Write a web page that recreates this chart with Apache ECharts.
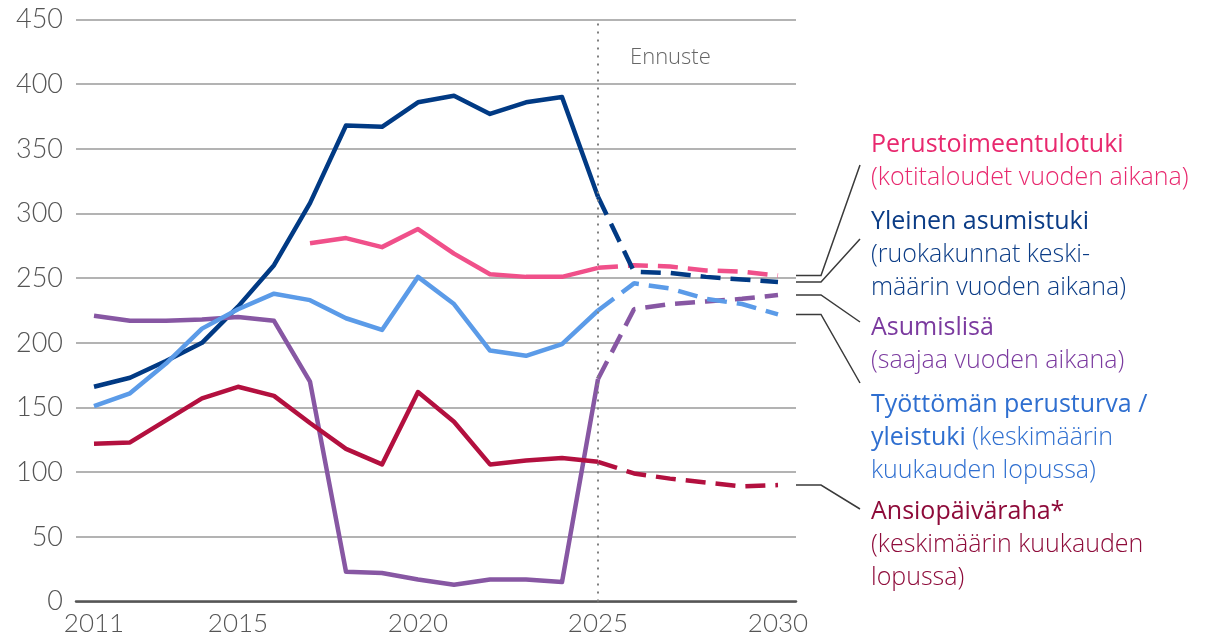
<!DOCTYPE html>
<html>
<head>
<meta charset="utf-8">
<script src="https://cdn.jsdelivr.net/npm/echarts@6/dist/echarts.min.js"></script>
<style>
html,body{margin:0;padding:0;background:#fff;}
#main{width:1207px;height:640px;}
</style>
</head>
<body>
<div id="main"></div>
<script>
// vuodet ja sarjat (2011-2030), ennuste alkaa 2025
var years = ['2011','2012','2013','2014','2015','2016','2017','2018','2019','2020',
             '2021','2022','2023','2024','2025','2026','2027','2028','2029','2030'];
var shownYears = ['2011','2015','2020','2025','2030'];
var forecastFrom = '2025';

var perustoimeentulotuki = [null,null,null,null,null,null,277,281,274,288,269,253,251,251,258,260,259,256,255,252];
var yleinenAsumistuki = [166,173,186,200,228,260,308,368,367,386,391,377,386,390,313,255,254,251,249,247];
var asumislisa = [221,217,217,218,220,217,170,23,22,17,13,17,17,15,172,226,230,232,234,237];
var tyottomanPerusturva = [151,161,184,211,226,238,233,219,210,251,230,194,190,199,225,246,242,234,230,222];
var ansiopaivaraha = [122,123,140,157,166,159,138,118,106,162,139,106,109,111,108,99,95,92,89,90];

(function(){
    var AXIS_FONT = 'Lato';
    var TEXT_FONT = 'Open Sans';

    //selitteet oikealla puolella
    var legendItems = [
        {data: perustoimeentulotuki, line:'#f0508a', text:'#e8286e', anchorY:165, top:128,
         txt:'{b|Perustoimeentulotuki}\n{l|(kotitaloudet vuoden aikana)}'},
        {data: yleinenAsumistuki, line:'#013a84', text:'#0b3c86', anchorY:239, top:205,
         txt:'{b|Yleinen asumistuki}\n{l|(ruokakunnat keski-}\n{l|määrin vuoden aikana)}'},
        {data: asumislisa, line:'#8757a3', text:'#7b3a9f', anchorY:322, top:311,
         txt:'{b|Asumislisä}\n{l|(saajaa vuoden aikana)}'},
        {data: tyottomanPerusturva, line:'#5b9be8', text:'#2f6fd0', anchorY:383, top:388,
         txt:'{b|Työttömän perusturva /}\n{b|yleistuki}{l| (keskimäärin}\n{l|kuukauden lopussa)}'},
        {data: ansiopaivaraha, line:'#b3103f', text:'#8e0b3a', anchorY:509, top:495,
         txt:'{b|Ansiopäiväraha*}\n{l|(keskimäärin kuukauden}\n{l|lopussa)}'}
    ];

    function lineChart(id){
        this.chart = echarts.init(document.getElementById(id));
        this.cut = years.indexOf(forecastFrom);
    }
    lineChart.prototype = {
        constructor: lineChart,
        init: function(){
            var _self = this;
            _self.chart.setOption(_self.baseOption());
            _self.addLabels();
        },
        //toteutunut ja ennuste erikseen
        split: function(arr){
            var cut = this.cut;
            var hist = arr.map(function(v, i){ return i <= cut ? v : null; });
            var fore = arr.map(function(v, i){ return i >= cut ? v : null; });
            return [hist, fore];
        },
        buildSeries: function(){
            var _self = this;
            var series = [];
            legendItems.forEach(function(item){
                var parts = _self.split(item.data);
                series.push({
                    type:'line', data: parts[0], symbol:'none', z: 3,
                    lineStyle:{color:item.line, width:4.5, join:'round'}
                });
                series.push({
                    type:'line', data: parts[1], symbol:'none', z: 3,
                    lineStyle:{color:item.line, width:4.5, type:[20,10]}
                });
            });
            //ennusteen raja
            series[0].markLine = {
                silent:true, symbol:'none', label:{show:false},
                lineStyle:{color:'#808080', width:2, type:[2,6]},
                data:[{xAxis: forecastFrom}]
            };
            return series;
        },
        baseOption: function(){
            return {
                animation:false,
                grid:{left:76, right:411, top:19.5, bottom:38.5},
                xAxis:{
                    type:'category', data: years, boundaryGap:true,
                    axisLine:{lineStyle:{color:'#555', width:2.5}},
                    axisTick:{show:false},
                    axisLabel:{
                        interval:function(i, v){ return shownYears.indexOf(v) >= 0; },
                        color:'#555', fontSize:26, fontFamily:AXIS_FONT, fontWeight:300, margin:9
                    }
                },
                yAxis:{
                    type:'value', min:0, max:450, interval:50,
                    axisLine:{show:false}, axisTick:{show:false},
                    splitLine:{lineStyle:{color:'#9a9a9a', width:1.5}},
                    axisLabel:{color:'#555', fontSize:27, fontFamily:AXIS_FONT, fontWeight:300, margin:13}
                },
                series: this.buildSeries()
            };
        },
        addLabels: function(){
            var _self = this;
            var rightX = 796;
            var graphic = [{
                type:'text', x:630, y:47,
                style:{text:'Ennuste', fill:'#666', font:'300 22px "' + TEXT_FONT + '"'}
            }];
            legendItems.forEach(function(item){
                var last = item.data[item.data.length - 1];
                var p = _self.chart.convertToPixel({xAxisIndex:0, yAxisIndex:0}, [years.length - 1, last]);
                graphic.push({
                    type:'polyline',
                    shape:{points:[[rightX, p[1]], [rightX + 25, p[1]], [860, item.anchorY]]},
                    style:{stroke:'#3a3a3a', lineWidth:1.5, fill:null}
                });
                graphic.push({
                    type:'text', x:871, y:item.top,
                    style:{
                        text:item.txt, verticalAlign:'top',
                        rich:{
                            b:{fontFamily:TEXT_FONT, fontSize:25, fontWeight:500, fill:item.text, lineHeight:33},
                            l:{fontFamily:TEXT_FONT, fontSize:25, fontWeight:300, fill:item.text, lineHeight:33}
                        }
                    }
                });
            });
            _self.chart.setOption({graphic: graphic});
        }
    };

    new lineChart('main').init();
})();
</script>
</body>
</html>
